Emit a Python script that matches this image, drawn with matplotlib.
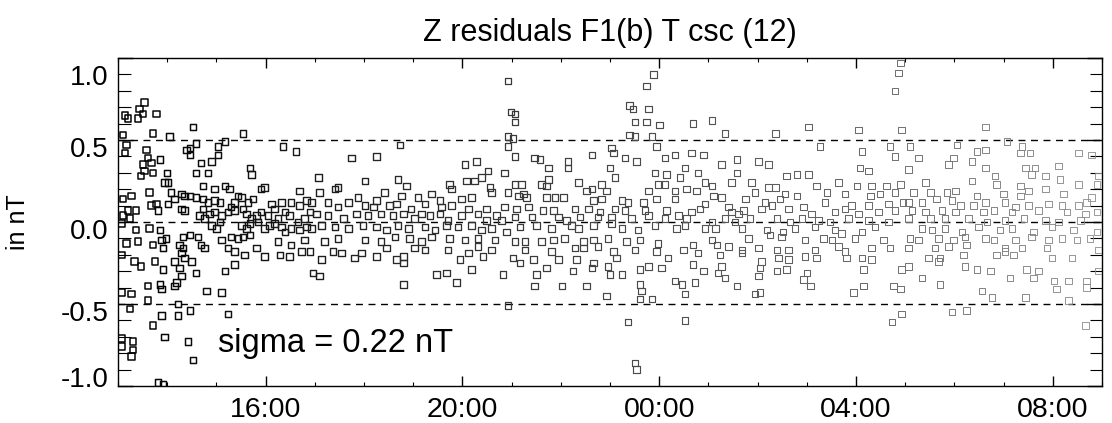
import numpy as np
import matplotlib
matplotlib.use("Agg")
import matplotlib.pyplot as plt
from matplotlib.ticker import FixedLocator, MultipleLocator
from matplotlib.transforms import ScaledTranslation

plt.rcParams['font.family'] = ['Liberation Sans', 'DejaVu Sans']

title = "Z residuals F1(b) T csc (12)"
ylabel = "in nT"
sigma_text = "sigma = 0.22 nT"
sigma_lines = [0.5, 0.0, -0.5]
xtick_hours = [16, 20, 24, 28, 32]
xtick_labels = ["16:00", "20:00", "00:00", "04:00", "08:00"]
ytick_values = [-1.0, -0.5, 0.0, 0.5, 1.0]
ytick_labels = ["-1.0", "-0.5", "0.0", "0.5", "1.0"]

# hours since 00:00 of first day (values > 24 are next day)
seg1_hours = [13.54, 13.44, 13.41, 13.51, 13.78, 13.14, 13.2, 14.52, 13.71, 14.05, 15.54, 13.1, 13.17, 13.14,
              14.59, 14.46, 14.39, 14.46, 15.03, 15.17, 16.35, 16.62, 13.58, 13.61, 13.85, 13.51, 13.68, 13.54,
              13.47, 13.71, 14.69, 14.9, 15.03, 14.0, 13.95, 14.02, 14.59, 14.83, 15.68, 15.71,
              13.64, 14.08, 14.73, 14.96, 15.17, 15.27, 15.91, 15.98, 16.69,
              13.1, 13.27, 14.29, 14.35, 14.46, 14.59, 14.73, 15.44, 14.15, 13.68, 13.78, 14.02, 13.81, 14.29,
              14.35, 13.37, 13.2, 13.1, 13.24, 13.07, 14.83, 14.96, 15.07, 15.37, 15.51, 15.64, 15.74, 15.3,
              14.73, 14.66, 14.76, 14.86, 14.96, 15.1, 15.24, 15.37, 15.54, 15.61, 15.71, 15.81, 15.91, 16.12,
              16.18, 16.32, 16.52, 16.69, 16.83, 16.93, 16.05, 16.25, 16.39, 16.49, 16.66, 16.79, 16.9,
              14.9, 15.0, 15.07, 15.51, 15.61, 15.68, 15.85, 15.98, 16.08, 16.18, 16.32, 16.39, 16.52, 16.69,
              16.83, 16.93, 13.37, 13.64, 13.85, 13.98, 14.32, 14.46, 14.63, 14.69, 14.76, 13.71, 13.88, 13.17,
              13.41, 14.25, 14.32, 14.29, 15.1, 15.3, 15.44, 15.54, 15.68, 15.24, 15.37, 15.57, 15.81, 15.98,
              16.29, 16.49, 16.25, 16.52, 16.73, 16.9, 16.79, 13.91, 13.07, 13.34, 13.47, 13.75, 13.91, 14.15,
              14.25, 14.35, 14.49, 14.59, 14.29, 14.19, 14.15, 15.17, 15.37, 16.96, 13.61, 13.85, 13.88, 14.8,
              15.1, 13.07, 13.27, 13.61, 14.22, 13.24, 13.88, 14.22, 14.46, 15.24, 13.71, 13.95, 14.42, 13.3,
              13.3, 13.27, 14.52, 13.81, 13.91, 13.07, 13.07]
seg1_resid = [0.73, 0.69, 0.63, 0.66, 0.66, 0.65, 0.63, 0.58, 0.54, 0.52, 0.54, 0.53, 0.47, 0.42,
              0.48, 0.45, 0.44, 0.41, 0.46, 0.49, 0.46, 0.43, 0.44, 0.39, 0.38, 0.35, 0.36, 0.31,
              0.28, 0.30, 0.36, 0.37, 0.41, 0.30, 0.24, 0.24, 0.30, 0.30, 0.33, 0.29,
              0.18, 0.18, 0.22, 0.20, 0.22, 0.20, 0.20, 0.21, 0.19,
              0.14, 0.16, 0.17, 0.16, 0.16, 0.15, 0.14, 0.16, 0.14, 0.10, 0.11, 0.11, 0.07, 0.08,
              0.07, 0.07, 0.07, 0.04, 0.02, -0.01, 0.12, 0.13, 0.12, 0.12, 0.15, 0.12, 0.14, 0.09,
              0.08, 0.04, 0.02, 0.05, 0.06, 0.04, 0.06, 0.07, 0.08, 0.05, 0.02, 0.04, 0.06, 0.11,
              0.08, 0.12, 0.12, 0.10, 0.13, 0.12, 0.04, 0.02, 0.06, 0.04, 0.00, 0.02, 0.06,
              -0.02, -0.04, 0.00, -0.02, -0.04, -0.01, 0.00, -0.04, -0.02, -0.01, -0.03, -0.06, -0.04, -0.05,
              -0.03, -0.04, -0.05, -0.04, -0.05, -0.10, -0.09, -0.08, -0.09, -0.14, -0.16, -0.14, -0.11, -0.13,
              -0.12, -0.14, -0.16, -0.19, -0.11, -0.09, -0.10, -0.09, -0.08, -0.16, -0.18, -0.20, -0.16, -0.21,
              -0.20, -0.21, -0.12, -0.14, -0.18, -0.18, -0.11, -0.16, -0.20, -0.24, -0.27, -0.24, -0.29, -0.24,
              -0.28, -0.22, -0.24, -0.31, -0.33, -0.37, -0.39, -0.30, -0.26, -0.31, -0.39, -0.38, -0.41, -0.42,
              -0.43, -0.43, -0.44, -0.48, -0.50, -0.53, -0.57, -0.57, -0.54, -0.56, -0.63, -0.70, -0.73, -0.73,
              -0.78, -0.82, -0.84, -0.98, -0.99, -0.71, -0.76]

seg2_hours = [20.93, 20.99, 20.93, 18.73, 17.75, 18.25, 20.93, 17.07, 20.05, 20.29, 20.52, 20.39, 20.25, 20.08,
              20.86, 18.02, 18.69, 18.86, 17.47, 17.41, 19.74, 19.78, 20.56, 20.59, 17.1, 17.88, 18.42, 18.25,
              18.76, 19.1, 19.37, 19.54, 19.98, 20.18, 20.93, 17.27, 17.47, 17.68, 18.02, 18.19, 18.52, 18.66,
              18.96, 19.24, 19.57, 19.78, 20.12, 20.49, 20.69, 20.86, 17.03, 17.27, 17.58, 17.85, 18.08, 18.35,
              18.59, 18.8, 19.03, 19.17, 19.34, 19.54, 19.71, 19.98, 20.32, 20.49, 20.79, 17.14, 17.41, 17.68,
              17.98, 18.25, 18.46, 18.69, 18.9, 19.24, 19.44, 19.68, 19.91, 20.18, 20.39, 20.59, 20.9, 17.47,
              17.2, 18.02, 18.35, 18.63, 18.93, 19.17, 19.37, 19.74, 20.05, 20.32, 20.66, 17.37, 17.54, 17.81,
              17.95, 18.25, 18.46, 18.66, 18.8, 18.8, 19.03, 19.24, 19.71, 19.95, 20.12, 20.32, 20.42, 20.59,
              17.1, 17.14, 19.47, 19.68, 19.88, 20.83, 20.18, 18.8, 20.93]
seg2_resid = [0.86, 0.67, 0.52, 0.47, 0.39, 0.40, 0.46, 0.27, 0.35, 0.37, 0.31, 0.27, 0.25, 0.25,
              0.30, 0.25, 0.26, 0.22, 0.21, 0.20, 0.23, 0.20, 0.21, 0.18, 0.18, 0.15, 0.18, 0.13,
              0.16, 0.15, 0.17, 0.13, 0.14, 0.15, 0.18, 0.12, 0.09, 0.12, 0.10, 0.09, 0.10, 0.11,
              0.08, 0.11, 0.09, 0.10, 0.08, 0.08, 0.04, 0.09, 0.05, 0.04, 0.02, 0.05, 0.04, 0.05,
              0.04, 0.05, 0.02, 0.05, 0.04, 0.05, 0.01, 0.04, 0.05, 0.01, 0.01, -0.02, -0.03, -0.04,
              -0.02, -0.03, -0.05, -0.02, -0.04, -0.03, -0.05, -0.02, -0.03, -0.02, -0.05, -0.04, -0.06, -0.10,
              -0.12, -0.11, -0.12, -0.09, -0.10, -0.12, -0.09, -0.10, -0.11, -0.10, -0.11, -0.18, -0.19, -0.22,
              -0.19, -0.21, -0.16, -0.23, -0.21, -0.25, -0.16, -0.17, -0.17, -0.23, -0.19, -0.15, -0.21, -0.17,
              -0.33, -0.23, -0.32, -0.31, -0.37, -0.32, -0.29, -0.38, -0.51]

seg3_hours = [23.88, 23.74, 23.4, 23.47, 23.78, 21.07, 21.07, 23.51, 23.74, 24.01, 24.69, 23.4, 23.51, 23.85,
              21.03, 23.95, 23.03, 22.63, 23.07, 23.3, 23.54, 24.12, 24.32, 24.66, 24.9, 21.07, 21.47, 21.58,
              22.15, 22.15, 21.75, 23.0, 24.52, 24.79, 23.91, 24.15, 23.1, 21.75, 22.36, 22.83, 23.98, 24.12,
              24.42, 24.93, 21.07, 21.2, 21.61, 21.71, 22.52, 22.63, 22.93, 23.78, 24.32, 24.56, 24.76, 21.24,
              21.14, 21.3, 21.71, 21.88, 22.05, 22.66, 22.83, 23.24, 23.37, 23.68, 23.95, 24.32, 24.93, 21.1,
              21.34, 21.64, 21.85, 22.29, 22.56, 22.8, 23.1, 23.3, 23.71, 24.15, 24.66, 24.83, 21.07, 21.41,
              21.95, 22.12, 22.39, 22.76, 23.03, 23.44, 23.78, 24.12, 24.39, 24.56, 21.17, 21.51, 21.81, 22.22,
              22.36, 22.66, 23.03, 23.24, 23.57, 23.91, 24.35, 24.52, 24.93, 21.07, 21.27, 21.61, 21.85, 22.08,
              22.46, 22.66, 22.96, 23.34, 23.61, 23.98, 24.69, 21.27, 21.81, 22.29, 22.46, 22.76, 23.07, 23.51,
              23.95, 24.49, 24.79, 21.03, 21.44, 21.95, 22.32, 22.66, 23.13, 24.18, 21.17, 21.71, 22.25, 22.63,
              22.96, 23.78, 23.61, 24.05, 24.69, 24.9, 21.51, 23.0, 23.24, 21.47, 22.02, 22.52, 23.61, 24.32,
              24.46, 24.73, 23.64, 22.93, 24.52, 23.61, 23.85, 23.37, 24.52, 23.51, 23.54]
seg3_resid = [0.90, 0.83, 0.71, 0.69, 0.69, 0.66, 0.61, 0.61, 0.61, 0.59, 0.60, 0.53, 0.52, 0.52,
              0.51, 0.46, 0.45, 0.41, 0.42, 0.39, 0.37, 0.39, 0.41, 0.42, 0.41, 0.40, 0.39, 0.38,
              0.37, 0.33, 0.33, 0.33, 0.33, 0.30, 0.30, 0.29, 0.27, 0.26, 0.24, 0.23, 0.23, 0.23,
              0.27, 0.24, 0.23, 0.23, 0.23, 0.22, 0.19, 0.20, 0.19, 0.19, 0.19, 0.20, 0.19, 0.17,
              0.16, 0.15, 0.15, 0.15, 0.15, 0.13, 0.14, 0.13, 0.12, 0.12, 0.14, 0.14, 0.11, 0.08,
              0.09, 0.07, 0.07, 0.08, 0.08, 0.06, 0.08, 0.07, 0.07, 0.07, 0.06, 0.08, 0.03, 0.03,
              0.03, 0.01, 0.03, 0.03, 0.03, 0.02, 0.04, 0.02, 0.04, 0.02, -0.03, -0.02, -0.04, -0.02,
              -0.04, -0.02, -0.01, -0.04, -0.05, -0.02, -0.04, -0.02, -0.04, -0.12, -0.12, -0.12, -0.11, -0.10,
              -0.12, -0.11, -0.10, -0.12, -0.11, -0.13, -0.14, -0.17, -0.18, -0.16, -0.16, -0.15, -0.18, -0.17,
              -0.18, -0.17, -0.19, -0.22, -0.23, -0.23, -0.23, -0.25, -0.22, -0.22, -0.25, -0.28, -0.30, -0.28,
              -0.27, -0.27, -0.29, -0.28, -0.26, -0.30, -0.32, -0.32, -0.32, -0.39, -0.39, -0.39, -0.38, -0.36,
              -0.38, -0.37, -0.42, -0.45, -0.44, -0.47, -0.47, -0.61, -0.60, -0.86, -0.90]

seg4_hours = [28.9, 28.86, 28.79, 25.07, 27.03, 25.34, 26.36, 28.05, 28.93, 27.27, 28.12, 28.69, 28.79, 25.27,
              25.58, 26.02, 26.22, 25.58, 28.08, 28.25, 26.59, 26.8, 27.03, 25.47, 25.88, 25.07, 27.2, 27.64,
              28.02, 28.32, 28.62, 28.9, 26.22, 26.36, 25.95, 26.56, 27.41, 27.78, 28.29, 28.49, 28.79, 25.1,
              25.27, 25.75, 26.15, 26.46, 26.8, 27.37, 27.91, 28.25, 28.66, 28.96, 25.41, 25.47, 25.61, 25.71,
              26.08, 26.29, 26.63, 26.93, 27.1, 27.57, 27.78, 28.05, 28.46, 28.79, 25.07, 25.34, 25.54, 25.85,
              26.39, 26.66, 26.9, 27.24, 27.47, 27.85, 28.25, 28.66, 25.14, 25.68, 26.19, 26.52, 26.76, 27.17,
              27.57, 27.71, 28.12, 28.39, 25.81, 26.25, 26.49, 26.96, 27.34, 27.51, 27.98, 28.56, 25.07, 25.17,
              25.41, 25.68, 26.02, 26.39, 26.63, 27.17, 27.64, 27.78, 28.32, 28.69, 25.24, 25.68, 26.42, 26.63,
              26.96, 27.2, 27.81, 28.12, 28.32, 25.27, 25.2, 25.34, 26.08, 26.05, 26.39, 26.59, 27.0, 26.02,
              28.15, 28.93, 26.93, 25.58, 27.07, 28.15, 28.76, 28.9, 25.95, 26.05, 27.95, 28.93, 28.73]
seg4_resid = [0.97, 0.91, 0.80, 0.62, 0.58, 0.54, 0.54, 0.56, 0.56, 0.46, 0.43, 0.46, 0.40, 0.35,
              0.38, 0.37, 0.35, 0.30, 0.33, 0.31, 0.28, 0.29, 0.29, 0.24, 0.24, 0.22, 0.22, 0.24,
              0.22, 0.22, 0.22, 0.23, 0.21, 0.21, 0.18, 0.17, 0.18, 0.17, 0.16, 0.17, 0.18, 0.16,
              0.15, 0.14, 0.12, 0.14, 0.16, 0.12, 0.10, 0.10, 0.11, 0.12, 0.09, 0.06, 0.05, 0.07,
              0.08, 0.10, 0.08, 0.09, 0.05, 0.06, 0.08, 0.05, 0.06, 0.07, 0.00, 0.02, 0.00, 0.02,
              0.02, 0.00, 0.02, 0.01, 0.00, 0.02, 0.01, 0.00, -0.04, -0.04, -0.05, -0.06, -0.04, -0.03,
              -0.05, -0.07, -0.06, -0.03, -0.10, -0.08, -0.09, -0.11, -0.10, -0.11, -0.10, -0.11, -0.11, -0.14,
              -0.15, -0.17, -0.16, -0.17, -0.17, -0.17, -0.15, -0.18, -0.16, -0.16, -0.20, -0.19, -0.22, -0.23,
              -0.21, -0.22, -0.22, -0.22, -0.23, -0.27, -0.31, -0.34, -0.24, -0.28, -0.30, -0.29, -0.31, -0.33,
              -0.29, -0.29, -0.35, -0.39, -0.39, -0.39, -0.39, -0.41, -0.44, -0.43, -0.43, -0.56, -0.61]

seg5_hours = [30.63, 29.1, 30.05, 31.37, 31.07, 29.27, 30.46, 30.63, 31.54, 31.34, 32.52, 32.79, 29.98, 30.36,
              29.88, 29.07, 30.63, 31.44, 31.64, 32.12, 30.83, 31.57, 31.85, 32.93, 29.41, 30.36, 30.86, 31.34,
              32.15, 32.52, 32.9, 29.17, 29.51, 29.85, 30.02, 30.46, 31.0, 31.34, 31.51, 31.85, 32.22, 32.79,
              29.07, 29.34, 29.64, 29.95, 30.12, 30.39, 30.63, 31.03, 31.24, 31.51, 31.91, 32.19, 32.52, 32.69,
              29.14, 29.41, 29.75, 30.02, 30.59, 30.8, 31.17, 31.71, 32.29, 32.66, 32.9, 29.07, 29.51, 29.81,
              30.29, 30.66, 31.03, 31.41, 31.85, 32.12, 32.56, 29.34, 29.54, 29.81, 30.15, 30.49, 30.93, 31.17,
              31.61, 31.98, 32.42, 32.9, 29.1, 29.27, 29.68, 29.98, 30.22, 30.63, 30.8, 31.24, 31.57, 31.91,
              32.19, 32.49, 32.76, 29.07, 29.61, 29.88, 30.25, 31.03, 31.37, 31.88, 32.93, 29.47, 29.71, 30.19,
              30.86, 31.03, 31.2, 31.98, 32.39, 29.07, 29.68, 30.22, 29.34, 29.71, 30.46, 30.73, 31.13, 31.47,
              31.71, 31.61, 32.02, 32.08, 32.32, 32.69, 32.69, 32.93, 30.56, 30.76, 31.44, 32.32, 29.95, 30.25,
              32.66]
seg5_resid = [0.58, 0.46, 0.47, 0.46, 0.49, 0.39, 0.43, 0.44, 0.42, 0.42, 0.42, 0.41, 0.39, 0.37,
              0.35, 0.32, 0.33, 0.33, 0.33, 0.34, 0.28, 0.29, 0.28, 0.28, 0.24, 0.25, 0.23, 0.22,
              0.26, 0.23, 0.23, 0.18, 0.18, 0.18, 0.19, 0.16, 0.17, 0.16, 0.19, 0.20, 0.17, 0.15,
              0.12, 0.12, 0.14, 0.13, 0.10, 0.10, 0.12, 0.12, 0.09, 0.10, 0.11, 0.10, 0.10, 0.12,
              0.07, 0.06, 0.07, 0.06, 0.06, 0.07, 0.06, 0.07, 0.06, 0.05, 0.06, 0.02, 0.02, 0.02,
              0.02, 0.00, 0.01, 0.02, 0.01, 0.00, 0.01, -0.04, -0.05, -0.04, -0.06, -0.03, -0.05, -0.04,
              -0.06, -0.03, -0.05, -0.06, -0.10, -0.11, -0.10, -0.11, -0.09, -0.10, -0.11, -0.11, -0.09, -0.11,
              -0.10, -0.11, -0.10, -0.16, -0.16, -0.15, -0.14, -0.16, -0.16, -0.16, -0.17, -0.22, -0.22, -0.20,
              -0.20, -0.18, -0.20, -0.22, -0.22, -0.27, -0.24, -0.27, -0.34, -0.38, -0.29, -0.30, -0.34, -0.29,
              -0.30, -0.34, -0.36, -0.41, -0.36, -0.36, -0.40, -0.30, -0.42, -0.46, -0.46, -0.48, -0.55, -0.54,
              -0.63]

hours = np.concatenate([seg1_hours, seg2_hours, seg3_hours, seg4_hours, seg5_hours])
resid = np.concatenate([seg1_resid, seg2_resid, seg3_resid, seg4_resid, seg5_resid])

fig = plt.figure(figsize=(11.12, 4.23), dpi=100)
ax = fig.add_axes([118/1112, 1 - 386/423, (1102 - 118)/1112, (386 - 58)/423])

# faded scan look: darker/bolder on the left, lighter on the right
frac = (hours - 13.0) / 20.0
grey = np.clip(0.0 + 0.55 * frac, 0, 1)
colors = np.stack([grey, grey, grey], axis=1)
widths = 1.1 - 0.5 * frac
ax.scatter(hours, resid, marker='s', s=22, facecolors='none', edgecolors=colors,
           linewidths=widths, zorder=3)

for yv in sigma_lines:
    ax.axhline(yv, color='black', lw=1.0, ls=(0, (5, 4)), zorder=2)

ax.set_xlim(13, 33)
ax.set_ylim(-1.0, 1.0)
ax.xaxis.set_major_locator(FixedLocator(xtick_hours))
ax.set_xticklabels(xtick_labels)
ax.xaxis.set_minor_locator(MultipleLocator(1))
ax.yaxis.set_major_locator(FixedLocator(ytick_values))
ax.set_yticklabels(ytick_labels)
ax.yaxis.set_minor_locator(MultipleLocator(0.1))

ax.tick_params(axis='both', which='both', direction='in', top=True, right=True, color='black')
ax.tick_params(axis='x', which='major', length=7, width=1.0, labelsize=20.5, pad=8)
ax.tick_params(axis='x', which='minor', length=3, width=0.8)
ax.tick_params(axis='y', which='major', length=11, width=1.0, labelsize=20, pad=7)
ax.tick_params(axis='y', which='minor', length=9, width=0.8)
for sp in ax.spines.values():
    sp.set_linewidth(1.0)

# y tick labels sit slightly below their ticks in the scan
offset = ScaledTranslation(0, -5/72, fig.dpi_scale_trans)
ylabs = ax.get_yticklabels()
for lab in ylabs:
    lab.set_transform(lab.get_transform() + offset)
ylabs[-1].set_va('top')
ylabs[0].set_va('bottom')

ax.set_ylabel(ylabel, fontsize=18, labelpad=22)
ax.set_title(title, fontsize=22, pad=12)
ax.text(0.1016, 0.104, sigma_text, transform=ax.transAxes, fontsize=23.5,
        ha='left', va='baseline', zorder=4)

fig.savefig("out.png", dpi=100)
